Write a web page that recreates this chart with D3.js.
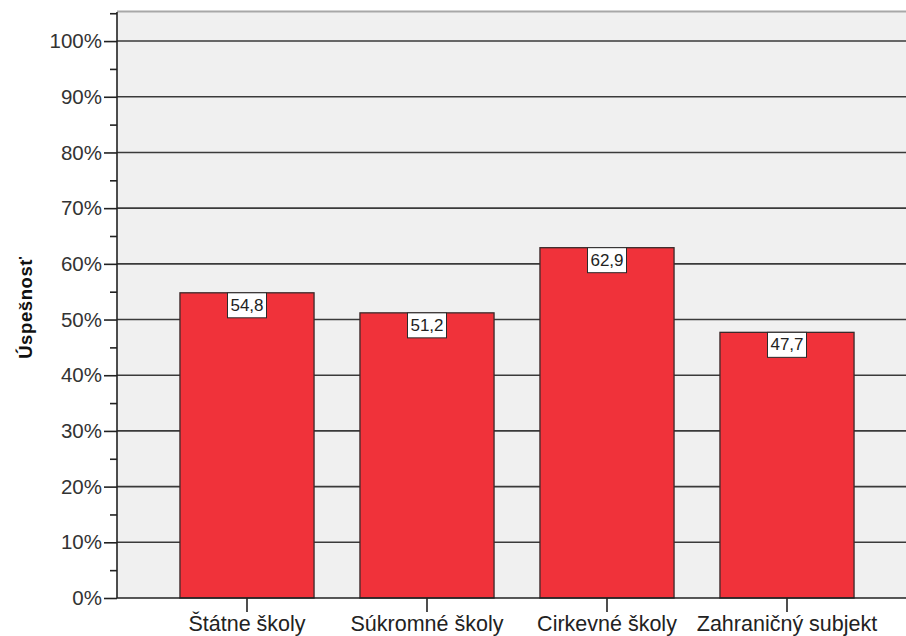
<!DOCTYPE html>
<html><head><meta charset="utf-8">
<script src="https://cdn.jsdelivr.net/npm/d3@7"></script>
<style>html,body{margin:0;padding:0;background:#fff;}svg{display:block;}</style>
</head><body>
<script>
const categories = ["Štátne školy", "Súkromné školy", "Cirkevné školy", "Zahraničný subjekt"];
const values = [54.8, 51.2, 62.9, 47.7];
const valueLabels = ["54,8", "51,2", "62,9", "47,7"];
const majorTicks = [0, 10, 20, 30, 40, 50, 60, 70, 80, 90, 100];
const minorTicks = [5, 15, 25, 35, 45, 55, 65, 75, 85, 95, 105];
const yTitle = "Úspešnosť";

const W = 906, H = 636;
const plotL = 117, plotR = 906, plotT = 11, plotB = 598;
const svg = d3.select("body").append("svg").attr("width", W).attr("height", H);

const y = d3.scaleLinear().domain([0, 105.4]).range([plotB, plotT]);
const x = d3.scaleBand().domain(categories).range([157, 877]).paddingInner(0.255).paddingOuter(0.1275);

// background
svg.append("rect").attr("x", plotL).attr("y", plotT).attr("width", plotR - plotL).attr("height", plotB - plotT).attr("fill", "#f0f0f0");
svg.append("line").attr("x1", plotL).attr("x2", plotR).attr("y1", plotT + 0.5).attr("y2", plotT + 0.5).attr("stroke", "#a8a8a8").attr("stroke-width", 2);

// gridlines
svg.append("g").selectAll("line").data(majorTicks.filter(d => d > 0)).join("line")
  .attr("x1", plotL).attr("x2", plotR)
  .attr("y1", d => y(d)).attr("y2", d => y(d))
  .attr("stroke", "#3a3a3a").attr("stroke-width", 1.6);

// bars
svg.append("g").selectAll("rect").data(values).join("rect")
  .attr("x", (d, i) => x(categories[i]))
  .attr("width", x.bandwidth())
  .attr("y", d => y(d))
  .attr("height", d => y(0) - y(d))
  .attr("fill", "#f0323a").attr("stroke", "#3a2a2a").attr("stroke-width", 1.3);

// value labels
const lab = svg.append("g").selectAll("g").data(values).join("g")
  .attr("transform", (d, i) => `translate(${x(categories[i]) + x.bandwidth() / 2},${y(d)})`);
lab.append("rect").attr("x", -19.5).attr("y", 0).attr("width", 39).attr("height", 25)
  .attr("fill", "#fff").attr("stroke", "#2a2a2a").attr("stroke-width", 1);
lab.append("text").text((d, i) => valueLabels[i]).attr("x", 0).attr("y", 18)
  .attr("text-anchor", "middle").attr("font-family", "Liberation Sans, Arial, sans-serif")
  .attr("font-size", 17).attr("fill", "#222");

// y axis
const yAxis = d3.axisLeft(y).tickValues(majorTicks).tickFormat(d => d + "%").tickSize(13).tickPadding(2);
const gy = svg.append("g").attr("transform", `translate(${plotL},0)`).call(yAxis);
gy.select(".domain").remove();
gy.selectAll(".tick line").attr("stroke", "#222").attr("stroke-width", 1.6);
gy.selectAll("text").attr("font-family", "Liberation Sans, Arial, sans-serif").attr("font-size", 20.5).attr("fill", "#333");
const gyMinor = svg.append("g").attr("transform", `translate(${plotL},0)`)
  .call(d3.axisLeft(y).tickValues(minorTicks).tickSize(7).tickFormat(""));
gyMinor.select(".domain").remove();
gyMinor.selectAll(".tick line").attr("stroke", "#222").attr("stroke-width", 1.6);
svg.append("line").attr("x1", plotL).attr("x2", plotL).attr("y1", plotT + 1).attr("y2", plotB)
  .attr("stroke", "#222").attr("stroke-width", 1.6);

// x axis
const xAxis = d3.axisBottom(x).tickSize(14).tickPadding(4);
const gx = svg.append("g").attr("transform", `translate(0,${plotB})`).call(xAxis);
gx.select(".domain").remove();
gx.selectAll(".tick line").attr("stroke", "#222").attr("stroke-width", 1.6);
gx.selectAll("text").attr("font-family", "Liberation Sans, Arial, sans-serif").attr("font-size", 21.5).attr("fill", "#222");
svg.append("line").attr("x1", plotL).attr("x2", plotR).attr("y1", plotB).attr("y2", plotB)
  .attr("stroke", "#222").attr("stroke-width", 1.6);

// y title
svg.append("text").text(yTitle)
  .attr("transform", `translate(31.5,${(plotT + plotB) / 2 + 3}) rotate(-90)`)
  .attr("text-anchor", "middle").attr("font-family", "Liberation Sans, Arial, sans-serif")
  .attr("font-weight", "bold").attr("font-size", 18.5).attr("letter-spacing", 0.6).attr("fill", "#111");
</script>
</body></html>
